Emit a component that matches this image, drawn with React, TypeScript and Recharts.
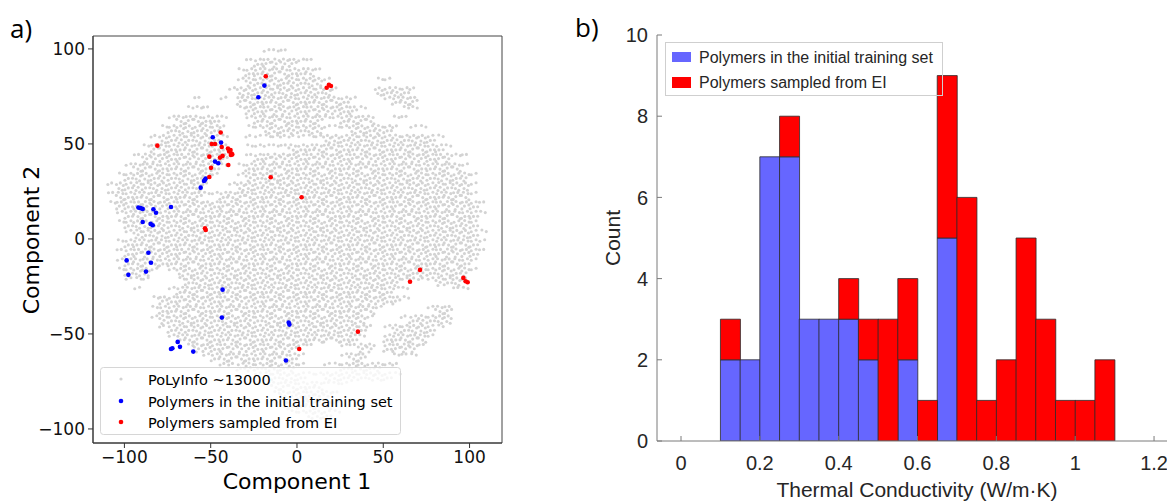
import React from 'react';
import { ScatterChart, Scatter, XAxis, YAxis, ReferenceArea, BarChart, Bar } from 'recharts';

// ---------- a) t-SNE map ----------

// Rows go top (y = 97.5) to bottom, columns left (x = -107.5) to right, run-length coded.
const CLOUD_X0 = -107.5;
const CLOUD_Y0 = 97.5;
const CLOUD_STEP = 5;
const cloudRows = [
  '.18 +3 .23',
  '.16 +1 #5 +2 .20',
  '.15 +1 #8 +1 .19',
  '.15 +1 #9 +1 .5 +2 .11',
  '.14 +1 #11 +1 .4 #4 +1 .8',
  '.10 +1 .2 +1 .1 #13 +1 .3 +1 #3 .8',
  '.9 +3 .3 +1 #13 +1 .4 +2 .8',
  '.7 +1 #5 +1 .2 +1 #8 +2 #4 .2 +2 .9',
  '.6 +1 #6 +1 .2 +2 #7 +3 #5 +1 .1 +2 .7',
  '.5 +1 #7 +1 .2 +9 #13 +1 .5',
  '.4 +1 #9 .2 +5 #18 +1 .4',
  '.3 +1 #10 .2 +1 #23 +2 .2',
  '.2 +1 #10 +1 .1 +1 #25 +1 .2',
  '.1 +1 #10 +1 .2 +1 #26 +1 .1',
  '+1 #10 +1 .2 +1 #27 +1 .1',
  '+1 #10 +2 #29 +1 .1',
  '+1 #42 +1',
  '.1 +1 #41 +1',
  '.1 +1 #41 .1',
  '.2 +1 #40 +1',
  '.1 +1 #41 +1',
  '.1 +1 #41 +1',
  '.1 +1 #40 +1 .1',
  '.1 +1 #3 +1 .1 +1 #34 +1 .1',
  '.2 +3 .3 +1 #25 +4 #3 +1 .2',
  '.3 +1 .3 +1 #25 +2 .5 +2 .2',
  '.5 +1 #28 +1 .9',
  '.5 +1 #25 +1 .5 +1 #2 .4',
  '.5 +1 #24 +1 .3 +1 #5 .4',
  '.6 +1 #23 +1 .1 +1 #5 +1 .5',
  '.7 +1 #21 +1 .2 #5 +1 .6',
  '.9 +1 #12 +2 .3 +2 #2 .1 #4 +1 .7',
  '.11 +1 #10 +1 .4 +1 #2 .3 +3 .8',
  '.13 +2 #7 +1 .2 +2 #5 +2 .10',
  '.17 +2 #4 +2 #8 +1 .10',
  '.18 +1 #6 +3 .16',
  '.19 +1 #6 +1 .17',
  '.19 +1 #6 +1 .17',
  '.21 +2 #3 +1 .17',
];

const initialSet: [number, number][] = [
  [-18.9, 80.7], [-22.4, 74.6], [-48.8, 53.5], [-44.0, 50.7], [-47.5, 40.7], [-45.6, 39.8],
  [-53.3, 31.1], [-53.9, 30.5], [-52.9, 31.8], [-55.8, 27.0], [-73.0, 16.8], [-91.9, 16.5],
  [-90.6, 16.2], [-89.4, 15.8], [-83.2, 15.6], [-81.7, 13.8], [-89.4, 8.9], [-84.8, 7.9],
  [-83.6, 7.2], [-86.1, -7.3], [-98.7, -11.3], [-84.6, -12.5], [-87.5, -17.2], [-97.7, -18.9],
  [-43.1, -26.7], [-43.5, -41.4], [-4.8, -44.0], [-4.4, -45.1], [-6.4, -64.0], [-69.1, -54.2],
  [-60.1, -59.3], [-67.8, -56.8], [-72.2, -57.5], [-73.0, -57.9],
];

const eiSampled: [number, number][] = [
  [-18.1, 85.6], [17.2, 79.6], [18.5, 81.1], [19.7, 80.5], [-44.2, 56.0], [-80.9, 49.1],
  [-49.4, 50.0], [-47.5, 50.0], [-43.6, 48.4], [-40.0, 47.6], [-38.5, 46.8], [-38.0, 45.0],
  [-37.5, 44.5], [-38.3, 44.2], [-39.3, 46.0], [-50.8, 43.3], [-44.6, 42.8], [-43.1, 43.7],
  [-39.8, 38.9], [-49.8, 37.4], [-50.8, 32.6], [-15.2, 32.5], [2.7, 21.9], [-53.3, 5.6],
  [-52.9, 4.7], [71.3, -16.3], [65.5, -22.5], [96.4, -20.5], [97.7, -22.3], [98.9, -22.8],
  [35.3, -48.8], [1.3, -57.9],
];

const tsneTicks = [-100, -50, 0, 50, 100];

// ---------- b) histogram ----------
const binCenters = [0.125, 0.175, 0.225, 0.275, 0.325, 0.375, 0.425, 0.475, 0.525, 0.575,
  0.625, 0.675, 0.725, 0.775, 0.825, 0.875, 0.925, 0.975, 1.025, 1.075];
const initialCounts = [2, 2, 7, 7, 3, 3, 3, 2, 0, 2, 0, 5, 0, 0, 0, 0, 0, 0, 0, 0];
const eiCounts = [1, 0, 0, 1, 0, 0, 1, 1, 3, 2, 1, 4, 6, 1, 2, 5, 3, 1, 1, 2];
const kTicks = [0, 0.2, 0.4, 0.6, 0.8, 1, 1.2];
const countTicks = [0, 2, 4, 6, 8, 10];

// speckle offsets (px) used to draw a grid cell as a patch of small dots
const SPECKLE = [
  [[-3, -3.5], [1.2, -3.8], [3.6, -0.8], [-0.8, 0.4], [-3.4, 3.2], [2.4, 3.4]],
  [[-1.8, -4], [2.8, -2.6], [-3.8, -0.8], [0.6, 1.4], [3.6, 3.6], [-2.2, 3.8]],
  [[-3.6, -2.2], [0.2, -3.8], [3.2, -1.2], [-1.2, 1.8], [2.2, 3.6], [-3.8, 4]],
  [[-0.6, -4.2], [3.8, -2.6], [-3.4, -1.2], [0.8, 0.6], [-1.4, 3.8], [3.4, 3]],
  [[-2.6, -2.4], [2.2, -4], [3.8, 1], [-0.4, 1.2], [-3.8, 3], [1.2, 4.2]],
];

const GRAY = '#d3d3d3';
const AXIS_B = '#7a7a7a';
const TEXT_B = '#262626';

function decodeRow(spec: string) {
  return spec.split(' ').map((tok) => tok[0].repeat(Number(tok.slice(1)))).join('');
}

const cloudCells = cloudRows.flatMap((spec, j) =>
  decodeRow(spec)
    .split('')
    .flatMap((c, i) =>
      c === '.'
        ? []
        : [{
            x: CLOUD_X0 + CLOUD_STEP * i,
            y: CLOUD_Y0 - CLOUD_STEP * j,
            dense: c === '#',
            k: (i * i + 3 * j + i * j) % SPECKLE.length,
          }]
    )
);

const initialPts = initialSet.map(([x, y]) => ({ x, y }));
const eiPts = eiSampled.map(([x, y]) => ({ x, y }));

const bins = binCenters.map((k, i) => ({ k, initial: initialCounts[i], ei: eiCounts[i] }));

const minus = (v: number) => String(v).replace('-', '\u2212');

const CloudCell = (props: any) => {
  const { cx, cy, payload } = props;
  const pts = SPECKLE[payload.k];
  const n = payload.dense ? 5 : 2;
  return (
    <g>
      {pts.slice(0, n).map(([dx, dy], i) => (
        <circle key={i} cx={cx + dx} cy={cy + dy} r={1.55} fill={GRAY} />
      ))}
    </g>
  );
};

const dot = (color: string) => (props: any) => <circle cx={props.cx} cy={props.cy} r={2.3} fill={color} />;

const BottomTick = (props: any) => {
  const { x, y, payload } = props;
  return (
    <g>
      <line x1={x} x2={x} y1={y} y2={y - 5} stroke={AXIS_B} />
      <text x={x} y={y + 29} textAnchor="middle" fontSize={20} fontFamily="Liberation Sans" fill={TEXT_B}>
        {String(payload.value)}
      </text>
    </g>
  );
};

const TopTick = (props: any) => {
  const { x, y } = props;
  return <line x1={x} x2={x} y1={y} y2={y + 5} stroke={AXIS_B} />;
};

const LeftTick = (props: any) => {
  const { x, y, payload } = props;
  return (
    <g>
      <line x1={x} x2={x + 5} y1={y} y2={y} stroke={AXIS_B} />
      <text x={x - 9} y={y} dy="0.36em" textAnchor="end" fontSize={20} fontFamily="Liberation Sans" fill={TEXT_B}>
        {String(payload.value)}
      </text>
    </g>
  );
};

const tickA = { fontSize: 17, fontFamily: 'DejaVu Sans', fill: '#111' };

export default function App() {
  return (
    <div style={{ position: 'absolute', left: 0, top: 0, width: 1167, height: 502, background: '#fff', overflow: 'hidden' }}>
      <div style={{ position: 'absolute', left: 0, top: 0 }}>
        <ScatterChart width={520} height={502} margin={{ top: 36, right: 18, bottom: 29, left: 0 }}>
          <XAxis
            type="number"
            dataKey="x"
            domain={[-118.2, 118.8]}
            ticks={tsneTicks}
            allowDataOverflow
            height={30}
            tickSize={5}
            tickMargin={3}
            tickFormatter={minus}
            tick={tickA}
            stroke="#333"
          />
          <YAxis
            type="number"
            dataKey="y"
            domain={[-107.4, 106.8]}
            ticks={tsneTicks}
            allowDataOverflow
            width={93}
            tickSize={5}
            tickMargin={3}
            tickFormatter={minus}
            tick={tickA}
            stroke="#333"
          />
          <ReferenceArea
            x1={-118.2}
            x2={118.8}
            y1={-107.4}
            y2={106.8}
            fill="none"
            stroke="#444"
            strokeWidth={1}
            ifOverflow="visible"
          />
          <Scatter data={cloudCells} shape={CloudCell} isAnimationActive={false} />
          <Scatter data={initialPts} shape={dot('#0000ff')} isAnimationActive={false} />
          <Scatter data={eiPts} shape={dot('#ff0000')} isAnimationActive={false} />
        </ScatterChart>
      </div>

      <div style={{ position: 'absolute', left: 560, top: 0 }}>
        <BarChart
          width={607}
          height={502}
          data={bins}
          margin={{ top: 35, right: 0, bottom: 31, left: 0 }}
          barCategoryGap={0}
          barGap={0}
        >
          <XAxis
            type="number"
            dataKey="k"
            domain={[-0.0609, 1.2329]}
            ticks={kTicks}
            allowDataOverflow
            height={30}
            tickSize={0}
            tickMargin={0}
            tick={BottomTick}
            stroke={AXIS_B}
          />
          <XAxis
            xAxisId="top"
            orientation="top"
            type="number"
            domain={[-0.0609, 1.2329]}
            ticks={kTicks}
            allowDataOverflow
            height={0}
            tickSize={0}
            tickMargin={0}
            tick={TopTick}
            stroke={AXIS_B}
          />
          <YAxis
            type="number"
            domain={[0, 10]}
            ticks={countTicks}
            allowDataOverflow
            width={97}
            tickSize={0}
            tickMargin={0}
            tick={LeftTick}
            stroke={AXIS_B}
          />
          <Bar dataKey="initial" stackId="h" fill="#6666ff" stroke="#2b2b2b" strokeWidth={0.8} isAnimationActive={false} />
          <Bar dataKey="ei" stackId="h" fill="#ff0000" stroke="#2b2b2b" strokeWidth={0.8} isAnimationActive={false} />
        </BarChart>
      </div>

      <svg width={1167} height={502} style={{ position: 'absolute', left: 0, top: 0, pointerEvents: 'none' }}>
        {/* panel letters */}
        <text x={10} y={38} fontSize={26} fontFamily="Open Sans" fill="#000">a)</text>
        <text x={575} y={37} fontSize={26} fontFamily="Open Sans" fill="#000">b)</text>

        {/* a) titles and legend */}
        <text x={297} y={489} textAnchor="middle" fontSize={22} fontFamily="DejaVu Sans" fill="#000">Component 1</text>
        <text transform="translate(39,240) rotate(-90)" textAnchor="middle" fontSize={22} fontFamily="DejaVu Sans" fill="#000">
          Component 2
        </text>
        <rect x={100.5} y={367.5} width={300} height={67} rx={3} fill="#fff" fillOpacity={0.8} stroke="#d6d6d6" />
        <circle cx={121} cy={379} r={1.6} fill={GRAY} />
        <circle cx={121} cy={401} r={2.3} fill="#0000ff" />
        <circle cx={121} cy={422} r={2.3} fill="#ff0000" />
        <g fontSize={14.5} fontFamily="DejaVu Sans" fill="#000">
          <text x={148} y={384.5}>PoLyInfo ~13000</text>
          <text x={148} y={406.5}>Polymers in the initial training set</text>
          <text x={148} y={427.5}>Polymers sampled from EI</text>
        </g>

        {/* b) titles and legend */}
        <text x={917} y={497} textAnchor="middle" fontSize={21} fontFamily="Liberation Sans" fill={TEXT_B}>
          Thermal Conductivity (W/m·K)
        </text>
        <text transform="translate(620,238) rotate(-90)" textAnchor="middle" fontSize={21} fontFamily="Liberation Sans" fill={TEXT_B}>
          Count
        </text>
        <rect x={665.5} y={42.5} width={277} height={53} fill="none" stroke="#cfcfcf" />
        <rect x={672} y={52} width={19} height={10} fill="#6666ff" />
        <rect x={672} y={77} width={19} height={11} fill="#ff0000" />
        <g fontSize={16} fontFamily="Liberation Sans" fill={TEXT_B}>
          <text x={699} y={62.7}>Polymers in the initial training set</text>
          <text x={699} y={87.7}>Polymers sampled from EI</text>
        </g>
      </svg>
    </div>
  );
}
